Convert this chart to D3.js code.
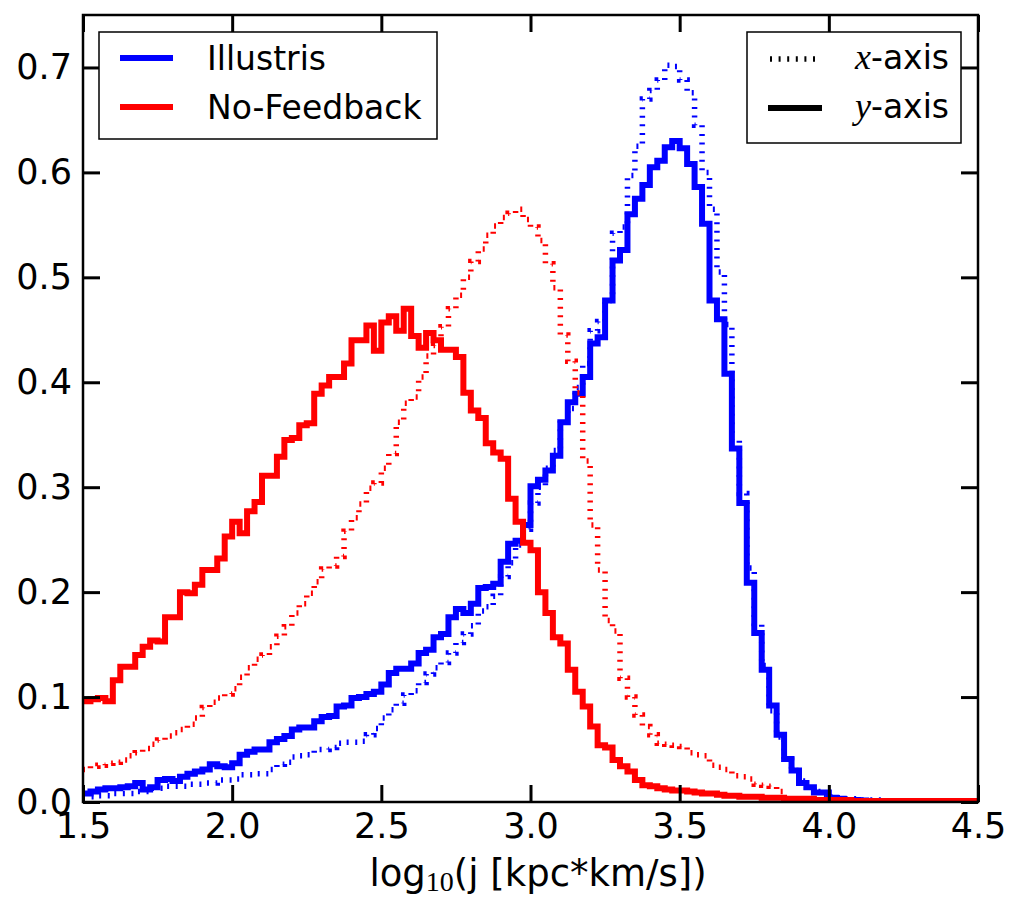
<!DOCTYPE html>
<html lang="en">
<head>
<meta charset="UTF-8">
<title>Specific angular momentum</title>
<style>
body { margin: 0; background: #fff; }
text { font-family: "DejaVu Sans", sans-serif; fill: #000; }
.axis text { font-size: 35px; }
.axis path { display: none; }
.axis line { stroke: #000; stroke-width: 3; }
.hist { fill: none; stroke-linejoin: miter; }
.solid { stroke-width: 6; }
.dotted { stroke-width: 5.5; stroke-dasharray: 2 6.6; }
.legend rect { fill: #fff; stroke: #000; stroke-width: 1.5; }
.legend text { font-size: 33px; }
.math { font-family: "Liberation Serif", serif; font-style: italic; }
</style>
</head>
<body>
<script src="https://cdn.jsdelivr.net/npm/d3@7"></script>
<script>
// histogram bins: 0.025 dex from 1.5 to 4.5
const binStart = 1.5, binWidth = 0.025;

const xTicks = [1.5, 2.0, 2.5, 3.0, 3.5, 4.0, 4.5];
const yTicks = [0.0, 0.1, 0.2, 0.3, 0.4, 0.5, 0.6, 0.7];

// Illustris, y-axis (solid blue)
const illustrisY = [
  0.008,0.010,0.012,0.013,0.013,0.014,0.015,0.018,0.012,0.014,
  0.021,0.022,0.020,0.024,0.027,0.029,0.031,0.036,0.034,0.033,
  0.037,0.045,0.048,0.050,0.050,0.057,0.060,0.063,0.069,0.071,
  0.071,0.077,0.081,0.082,0.091,0.092,0.099,0.100,0.103,0.105,
  0.112,0.123,0.127,0.127,0.132,0.142,0.145,0.157,0.160,0.176,
  0.184,0.180,0.189,0.204,0.205,0.208,0.229,0.246,0.249,0.264,
  0.301,0.307,0.316,0.330,0.362,0.381,0.389,0.405,0.437,0.443,
  0.478,0.516,0.526,0.560,0.575,0.588,0.605,0.611,0.624,0.630,
  0.623,0.608,0.586,0.551,0.478,0.460,0.408,0.337,0.285,0.209,
  0.161,0.126,0.092,0.064,0.041,0.030,0.018,0.014,0.009,0.009,
  0.004,0.003,0.002,0.002,0.0015,0.001,0.001,0.001,0.001,0.001,
  0.001,0.0005,0.0005,0.0005,0.0005,0.0005,0.0005,0.0005,0.0005,0.0005
];

// Illustris, x-axis (dotted blue)
const illustrisX = [
  0.005,0.005,0.006,0.006,0.008,0.008,0.008,0.010,0.010,0.013,
  0.013,0.015,0.015,0.015,0.017,0.017,0.018,0.018,0.021,0.021,
  0.022,0.026,0.026,0.027,0.027,0.031,0.036,0.038,0.043,0.044,
  0.045,0.050,0.050,0.052,0.056,0.057,0.057,0.058,0.064,0.070,
  0.080,0.088,0.094,0.102,0.106,0.114,0.122,0.128,0.133,0.142,
  0.152,0.160,0.168,0.182,0.186,0.196,0.215,0.228,0.245,0.260,
  0.285,0.300,0.318,0.335,0.365,0.375,0.395,0.418,0.449,0.458,
  0.478,0.542,0.548,0.597,0.625,0.670,0.678,0.688,0.702,0.701,
  0.688,0.676,0.645,0.600,0.565,0.505,0.455,0.345,0.294,0.223,
  0.170,0.130,0.087,0.062,0.040,0.030,0.020,0.014,0.010,0.007,
  0.005,0.004,0.003,0.003,0.002,0.002,0.002,0.001,0.001,0.001,
  0.001,0.001,0.001,0.001,0.001,0.001,0.001,0.001,0.001,0.001
];

// No-Feedback, y-axis (solid red)
const noFeedbackY = [
  0.096,0.098,0.099,0.096,0.116,0.129,0.129,0.140,0.148,0.154,
  0.153,0.176,0.176,0.200,0.199,0.207,0.221,0.221,0.232,0.253,
  0.267,0.256,0.277,0.286,0.311,0.311,0.329,0.345,0.347,0.359,
  0.361,0.389,0.397,0.405,0.405,0.418,0.440,0.440,0.454,0.430,
  0.457,0.463,0.449,0.470,0.444,0.433,0.447,0.440,0.431,0.431,
  0.424,0.390,0.373,0.366,0.342,0.333,0.327,0.289,0.267,0.247,
  0.240,0.200,0.180,0.157,0.151,0.126,0.105,0.091,0.072,0.054,
  0.052,0.040,0.034,0.029,0.021,0.016,0.015,0.013,0.012,0.011,
  0.011,0.010,0.009,0.008,0.008,0.007,0.006,0.006,0.005,0.005,
  0.005,0.004,0.004,0.004,0.003,0.003,0.003,0.003,0.002,0.002,
  0.002,0.002,0.002,0.001,0.001,0.001,0.001,0.001,0.001,0.001,
  0.001,0.001,0.001,0.001,0.001,0.001,0.001,0.001,0.001,0.001
];

// No-Feedback, x-axis (dotted red)
const noFeedbackX = [
  0.031,0.034,0.035,0.037,0.038,0.040,0.044,0.047,0.051,0.055,
  0.059,0.063,0.066,0.069,0.074,0.080,0.090,0.095,0.099,0.103,
  0.108,0.119,0.128,0.136,0.140,0.148,0.158,0.167,0.180,0.189,
  0.199,0.210,0.222,0.225,0.234,0.258,0.271,0.284,0.299,0.304,
  0.318,0.332,0.362,0.380,0.386,0.405,0.425,0.435,0.453,0.470,
  0.483,0.500,0.515,0.527,0.540,0.549,0.557,0.561,0.565,0.555,
  0.548,0.535,0.513,0.490,0.445,0.420,0.390,0.325,0.264,0.221,
  0.173,0.163,0.118,0.100,0.083,0.072,0.064,0.056,0.055,0.054,
  0.053,0.047,0.045,0.044,0.035,0.033,0.031,0.025,0.024,0.022,
  0.017,0.016,0.015,0.010,0.004,0.003,0.003,0.002,0.002,0.002,
  0.001,0.001,0.001,0.001,0.001,0.001,0.001,0.001,0.001,0.001,
  0.001,0.001,0.001,0.001,0.001,0.001,0.001,0.001,0.001,0.001
];

const simNames = ['Illustris', 'No-Feedback'];
const simColors = ['#0000ff', '#ff0000'];
const axisNames = ['x', 'y'];

const binEdges = d3.range(illustrisY.length + 1).map(i => binStart + i * binWidth);

let width = 1028, height = 911;
let plot = {left: 83, right: 978, top: 15, bottom: 802};

let svg = d3.select('body').append('svg')
    .attr('width', width)
    .attr('height', height);

let x = d3.scaleLinear().domain([1.5, 4.5]).range([plot.left, plot.right]);
let y = d3.scaleLinear().domain([0, 0.75]).range([plot.bottom, plot.top]);

svg.append('clipPath').attr('id', 'clip')
  .append('rect')
    .attr('x', plot.left).attr('y', plot.top)
    .attr('width', plot.right - plot.left)
    .attr('height', plot.bottom - plot.top);

let stepLine = d3.line()
    .x(d => x(d[0]))
    .y(d => y(d[1]))
    .curve(d3.curveStepAfter);

function stepPoints(vals) {
    let pts = vals.map((v, i) => [binEdges[i], v]);
    let n = vals.length;
    pts.push([binEdges[n], vals[n - 1]]);
    pts.push([binEdges[n], 0]);
    return pts;
}

let series = [
    {vals: illustrisY, color: simColors[0], cls: 'solid'},
    {vals: illustrisX, color: simColors[0], cls: 'dotted'},
    {vals: noFeedbackY, color: simColors[1], cls: 'solid'},
    {vals: noFeedbackX, color: simColors[1], cls: 'dotted'}
];

svg.append('g').attr('clip-path', 'url(#clip)')
  .selectAll('path')
  .data(series)
  .enter()
  .append('path')
    .attr('class', d => 'hist ' + d.cls)
    .attr('stroke', d => d.color)
    .attr('d', d => stepLine(stepPoints(d.vals)));

// axes, ticks pointing inwards on all four sides
let fmt = d3.format('.1f');
svg.append('g').attr('class', 'axis')
    .attr('transform', `translate(0, ${plot.bottom})`)
    .call(d3.axisBottom(x).tickValues(xTicks).tickFormat(fmt)
        .tickSizeInner(-17).tickSizeOuter(0).tickPadding(11));
svg.append('g').attr('class', 'axis')
    .attr('transform', `translate(0, ${plot.top})`)
    .call(d3.axisTop(x).tickValues(xTicks).tickFormat('')
        .tickSizeInner(-17).tickSizeOuter(0));
svg.append('g').attr('class', 'axis')
    .attr('transform', `translate(${plot.left}, 0)`)
    .call(d3.axisLeft(y).tickValues(yTicks).tickFormat(fmt)
        .tickSizeInner(-17).tickSizeOuter(0).tickPadding(11));
svg.append('g').attr('class', 'axis')
    .attr('transform', `translate(${plot.right}, 0)`)
    .call(d3.axisRight(y).tickValues(yTicks).tickFormat('')
        .tickSizeInner(-17).tickSizeOuter(0));

svg.append('rect')
    .attr('x', plot.left).attr('y', plot.top)
    .attr('width', plot.right - plot.left)
    .attr('height', plot.bottom - plot.top)
    .attr('fill', 'none')
    .attr('stroke', '#000')
    .attr('stroke-width', 2.5);

// x label
let xl = svg.append('text')
    .attr('x', 538).attr('y', 886)
    .attr('text-anchor', 'middle')
    .style('font-size', '37px');
xl.append('tspan').text('log');
xl.append('tspan')
    .attr('dy', 5)
    .style('font-family', '"Liberation Serif", serif')
    .style('font-size', '28px')
    .text('10');
xl.append('tspan').attr('dy', -5).text('(j [kpc*km/s])');

// legend: simulations
let leg1 = svg.append('g').attr('class', 'legend');
leg1.append('rect').attr('x', 99).attr('y', 32).attr('width', 338).attr('height', 107);
let items1 = leg1.selectAll('.item')
  .data(simNames)
  .enter()
  .append('g')
    .attr('class', 'item')
    .attr('transform', (d, i) => `translate(0, ${58 + i * 49})`);
items1.append('line')
    .attr('x1', 120).attr('x2', 173)
    .attr('stroke', (d, i) => simColors[i])
    .attr('stroke-width', 6);
items1.append('text')
    .attr('x', 207).attr('y', 12)
    .text(d => d);

// legend: projection axis
let leg2 = svg.append('g').attr('class', 'legend');
leg2.append('rect').attr('x', 747).attr('y', 32).attr('width', 214).attr('height', 111);
let items2 = leg2.selectAll('.item')
  .data(axisNames)
  .enter()
  .append('g')
    .attr('class', 'item')
    .attr('transform', (d, i) => `translate(0, ${59 + i * 49})`);
items2.append('line')
    .attr('class', (d, i) => i === 0 ? 'dotted' : 'solid')
    .attr('x1', (d, i) => i === 0 ? 770 : 768)
    .attr('x2', (d, i) => i === 0 ? 816 : 822)
    .attr('stroke', '#000');
let t2 = items2.append('text')
    .attr('x', 855).attr('y', 10);
t2.append('tspan').attr('class', 'math').style('font-size', '36px').text(d => d);
t2.append('tspan').text('-axis');
</script>
</body>
</html>
